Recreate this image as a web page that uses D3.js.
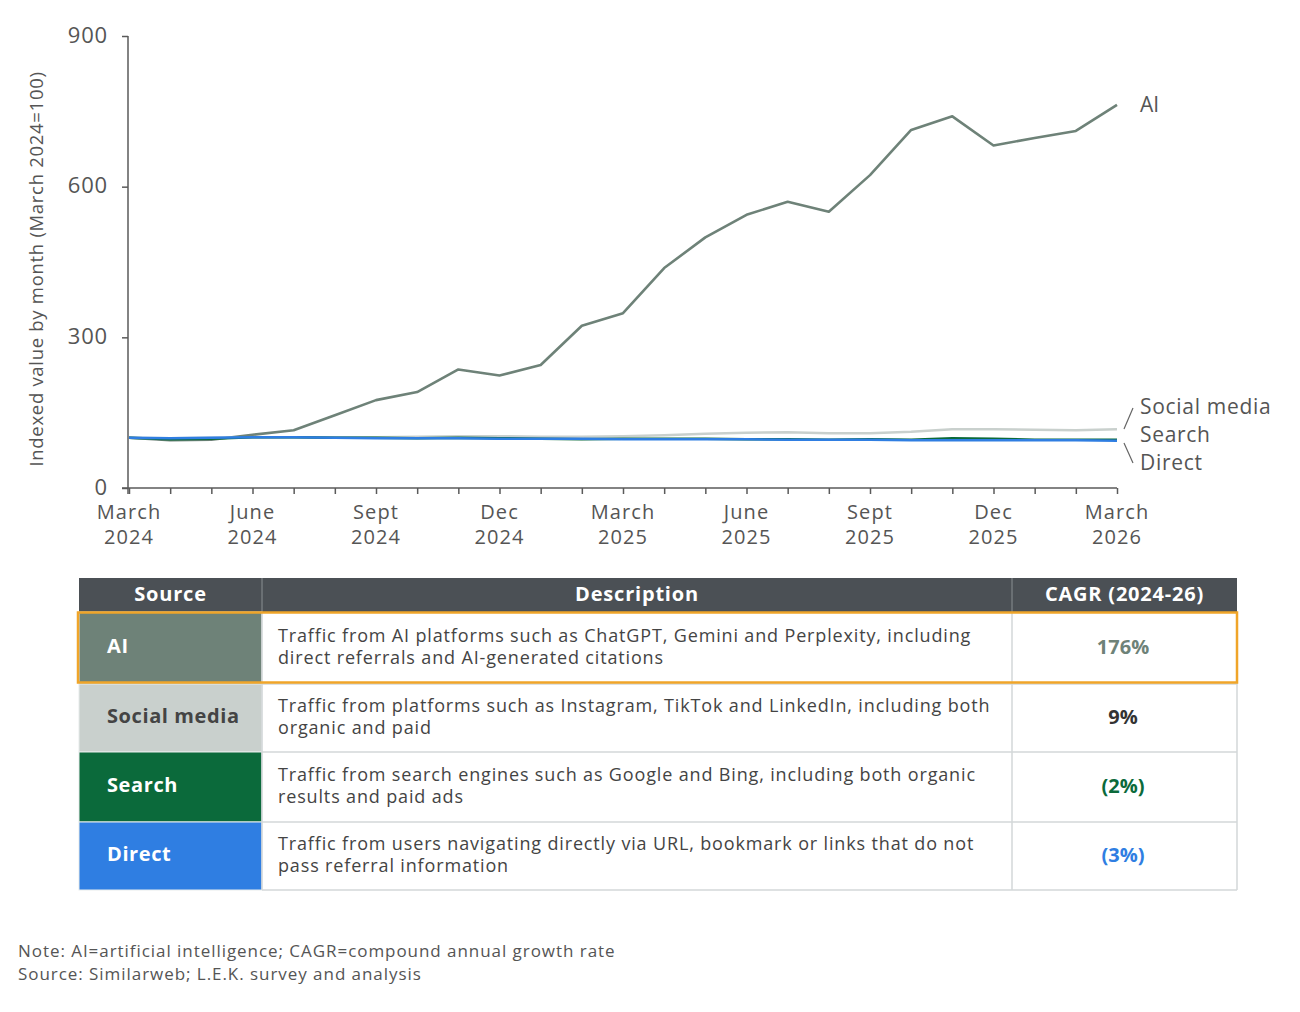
<!DOCTYPE html>
<meta charset="utf-8">
<style>
body { margin: 0; background: #fff; }
svg text { font-family: "Open Sans", "Noto Sans", sans-serif; }
.axis path, .axis line { stroke: #5a5a5a; stroke-width: 1.5; }
.axis text { fill: #555; font-size: 22px; letter-spacing: 0.8px; }
.line { fill: none; stroke-width: 2.6; stroke-linejoin: round; }
</style>
<body></body>
<script src="https://d3js.org/d3.v7.min.js"></script>
<script>

// months from March 2024 to March 2026 (index 0..24)
var months = d3.range(25);
var tickMonths = [0, 3, 6, 9, 12, 15, 18, 21, 24];
var tickLabels = [["March", "2024"], ["June", "2024"], ["Sept", "2024"], ["Dec", "2024"],
                  ["March", "2025"], ["June", "2025"], ["Sept", "2025"], ["Dec", "2025"], ["March", "2026"]];
var yTicks = [0, 300, 600, 900];

// indexed values
var aiValues     = [100, 95, 96, 106, 115, 145, 175, 191, 236, 224, 245, 323, 348, 438, 499, 544, 570, 550, 623, 713, 740, 682, 697, 711, 763];
var socialValues = [100, 99, 100, 101, 101, 101, 101, 102, 103, 103, 102, 102, 103, 105, 108, 110, 111, 109, 109, 112, 117, 117, 116, 115, 117];
var searchValues = [100, 97, 98, 101, 101, 100, 100, 99, 100, 99, 98, 97, 98, 98, 98, 97, 97, 96, 97, 96, 99, 98, 96, 96, 96];
var directValues = [100, 99, 100, 101, 101, 100, 99, 99, 99, 98, 98, 98, 97, 97, 97, 97, 96, 96, 96, 95, 95, 95, 95, 95, 94];

var seriesNames  = ["AI", "Social media", "Search", "Direct"];
var seriesColors = ["#6e8278", "#c9d0cd", "#0b6a3b", "#2f7ee2"];

// table content
var descriptions = [
  ["Traffic from AI platforms such as ChatGPT, Gemini and Perplexity, including", "direct referrals and AI-generated citations"],
  ["Traffic from platforms such as Instagram, TikTok and LinkedIn, including both", "organic and paid"],
  ["Traffic from search engines such as Google and Bing, including both organic", "results and paid ads"],
  ["Traffic from users navigating directly via URL, bookmark or links that do not", "pass referral information"]
];
var cagrs = ["176%", "9%", "(2%)", "(3%)"];
var cagrColors = ["#6e8278", "#333", "#0b6a3b", "#2f7ee2"];
var sourceText = ["#fff", "#444", "#fff", "#fff"];

var svg = d3.select("body").append("svg")
    .attr("width", 1300)
    .attr("height", 1012);

var x = d3.scaleLinear().domain([0, 24]).range([129, 1117]);
var y = d3.scaleLinear().domain([0, 900]).range([488, 36]);

// y axis
var yAxis = svg.append("g")
    .attr("class", "axis")
    .attr("transform", "translate(128,0)")
    .call(d3.axisLeft(y).tickValues(yTicks).tickSize(6).tickPadding(14).tickSizeOuter(0));
yAxis.select(".domain").attr("d", "M0,36V494");
yAxis.selectAll(".tick text").attr("dy", "0.28em");

// x axis
var xAxis = svg.append("g")
    .attr("class", "axis")
    .attr("transform", "translate(0,488)")
    .call(d3.axisBottom(x).tickValues(months).tickSize(6).tickSizeOuter(0).tickFormat(""));
xAxis.select(".domain").attr("d", "M122,0H1117");

var xLabels = svg.append("g");
[0, 1].forEach(function(k) {
  xLabels.selectAll(".xl" + k)
      .data(tickMonths)
    .enter().append("text")
      .attr("x", function(d) { return x(d); })
      .attr("y", 519 + k * 25)
      .attr("text-anchor", "middle")
      .style("font-size", "20px")
      .style("letter-spacing", "1.1px")
      .style("fill", "#555")
      .text(function(d, i) { return tickLabels[i][k]; });
});

// y axis title
svg.append("text")
    .attr("transform", "translate(43,269) rotate(-90)")
    .attr("text-anchor", "middle")
    .style("font-size", "18.5px")
    .style("letter-spacing", "0.7px")
    .style("fill", "#555")
    .text("Indexed value by month (March 2024=100)");

// lines
var line = d3.line()
    .x(function(d, i) { return x(i); })
    .y(function(d) { return y(d); });

var allSeries = [aiValues, socialValues, searchValues, directValues];
svg.append("g").selectAll("path")
    .data(allSeries)
  .enter().append("path")
    .attr("class", "line")
    .attr("stroke", function(d, i) { return seriesColors[i]; })
    .attr("d", line);

// line labels
svg.append("text")
    .attr("x", 1140).attr("y", 112)
    .style("font-size", "21px").style("fill", "#555")
    .text("AI");
var lblY = [414, 442, 470];
svg.append("g").selectAll("text")
    .data(seriesNames.slice(1))
  .enter().append("text")
    .attr("x", 1140)
    .attr("y", function(d, i) { return lblY[i]; })
    .style("font-size", "21px").style("letter-spacing", "0.7px").style("fill", "#555")
    .text(function(d) { return d; });
svg.append("path")
    .attr("d", "M1124,429L1133,408M1124,443L1133,463")
    .attr("stroke", "#666").attr("stroke-width", 1.2).attr("fill", "none");

// table
var cols = [79, 262, 1012, 1237];
var rowTops = [612, 684, 752, 822, 890];
var table = svg.append("g");

table.append("rect")
    .attr("x", 79).attr("y", 578).attr("width", 1237 - 79).attr("height", 34)
    .attr("fill", "#4b5055");
var headers = ["Source", "Description", "CAGR (2024-26)"];
headers.forEach(function(h, i) {
  table.append("text")
    .attr("x", (cols[i] + cols[i + 1]) / 2)
    .attr("y", 601)
    .attr("text-anchor", "middle")
    .style("font-size", "20px").style("font-weight", "bold").style("letter-spacing", "0.8px").style("fill", "#fff")
    .text(h);
});
table.selectAll(".hsep")
    .data([262, 1012])
  .enter().append("line")
    .attr("x1", function(d) { return d; }).attr("x2", function(d) { return d; })
    .attr("y1", 578).attr("y2", 612)
    .attr("stroke", "#8a8f93").attr("stroke-width", 1);

seriesNames.forEach(function(name, i) {
  var top = rowTops[i], h = rowTops[i + 1] - top, mid = top + h / 2;
  table.append("rect")
    .attr("x", 79).attr("y", top).attr("width", 262 - 79).attr("height", h)
    .attr("fill", seriesColors[i])
    .attr("stroke", "#e8ecec").attr("stroke-width", 1);
  table.append("text")
    .attr("x", 107).attr("y", mid + 5)
    .style("font-size", "20px").style("font-weight", "bold").style("letter-spacing", "0.6px").style("fill", sourceText[i])
    .text(name);
  descriptions[i].forEach(function(s, k) {
    table.append("text")
      .attr("x", 278).attr("y", mid - 6 + k * 22)
      .style("font-size", "18px").style("letter-spacing", "0.85px").style("fill", "#444")
      .text(s);
  });
  table.append("text")
    .attr("x", 1123).attr("y", mid + 6)
    .attr("text-anchor", "middle")
    .style("font-size", "20px").style("font-weight", "bold").style("fill", cagrColors[i])
    .text(cagrs[i]);
});

// grid lines of the table body
table.selectAll(".rsep")
    .data(rowTops.slice(1))
  .enter().append("line")
    .attr("x1", 262).attr("x2", 1237)
    .attr("y1", function(d) { return d; }).attr("y2", function(d) { return d; })
    .attr("stroke", "#d3d7d8").attr("stroke-width", 1.5);
table.selectAll(".csep")
    .data([262, 1012, 1237])
  .enter().append("line")
    .attr("x1", function(d) { return d; }).attr("x2", function(d) { return d; })
    .attr("y1", 612).attr("y2", 890)
    .attr("stroke", "#d3d7d8").attr("stroke-width", 1.5);

// highlight on the AI row
table.append("rect")
    .attr("x", 78).attr("y", 612.5).attr("width", 1237 - 78).attr("height", 70)
    .attr("fill", "none").attr("stroke", "#f0a529").attr("stroke-width", 2.5);

// footnotes
var notes = ["Note: AI=artificial intelligence; CAGR=compound annual growth rate",
             "Source: Similarweb; L.E.K. survey and analysis"];
svg.append("g").selectAll("text")
    .data(notes)
  .enter().append("text")
    .attr("x", 18)
    .attr("y", function(d, i) { return 957 + i * 23; })
    .style("font-size", "17px").style("letter-spacing", "0.95px").style("fill", "#555")
    .text(function(d) { return d; });

</script>
